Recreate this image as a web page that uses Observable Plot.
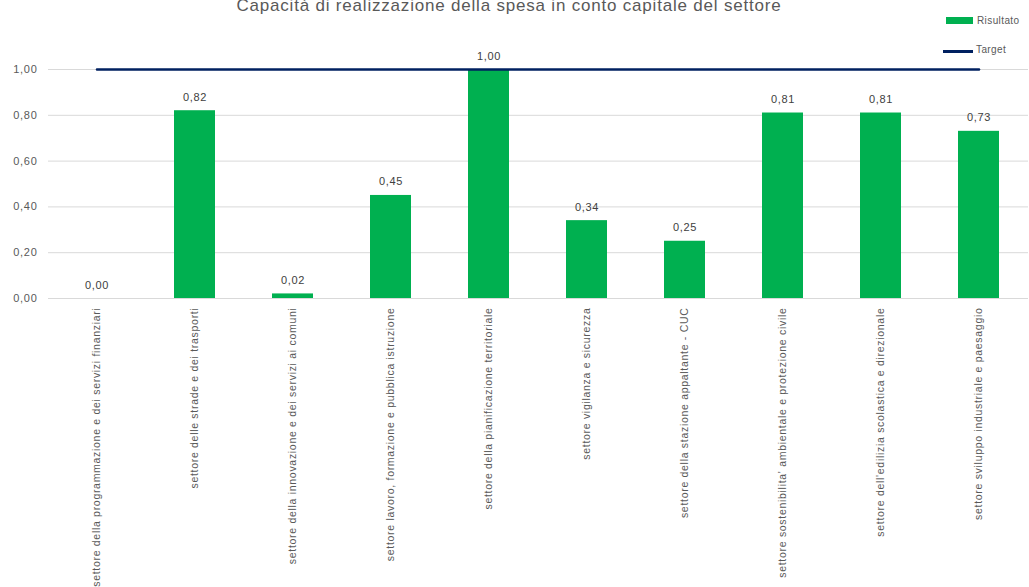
<!DOCTYPE html>
<html><head><meta charset="utf-8">
<script src="https://cdn.jsdelivr.net/npm/d3@7"></script>
<script src="https://cdn.jsdelivr.net/npm/@observablehq/plot@0.6"></script>
<style>
html,body{margin:0;padding:0;background:#fff;}
#wrap{position:relative;width:1029px;height:587px;overflow:hidden;font-family:"Liberation Sans",Arial,sans-serif;color:#595959;}
#title{position:absolute;left:0;width:1018px;top:-4px;text-align:center;font-size:17px;line-height:20px;letter-spacing:0.8px;color:#595959;white-space:nowrap;}
.lg{position:absolute;font-size:10px;line-height:12px;letter-spacing:0.4px;color:#595959;}
#chart svg{display:block;}
#chart svg text{letter-spacing:0.7px;}
</style></head>
<body>
<div id="wrap">
  <div id="chart"></div>
  <div id="title">Capacità di realizzazione della spesa in conto capitale del settore</div>
  <div class="lg" style="left:946px;top:17px;width:27px;height:7px;background:#00b050;"></div>
  <div class="lg" style="left:977px;top:15px;">Risultato</div>
  <div class="lg" style="left:943px;top:50px;width:30px;height:2.5px;background:#002060;"></div>
  <div class="lg" style="left:976px;top:44px;">Target</div>
</div>
<script>
const categories = [
  "settore della programmazione e dei servizi finanziari",
  "settore delle strade e dei trasporti",
  "settore della innovazione e dei servizi ai comuni",
  "settore lavoro, formazione e pubblica istruzione",
  "settore della pianificazione territoriale",
  "settore vigilanza e sicurezza",
  "settore della stazione appaltante - CUC",
  "settore sostenibilita' ambientale e protezione civile",
  "settore dell'edilizia scolastica e direzionale",
  "settore sviluppo industriale e paesaggio"
];
const risultato = [0.00, 0.82, 0.02, 0.45, 1.00, 0.34, 0.25, 0.81, 0.81, 0.73];
const target = [1, 1, 1, 1, 1, 1, 1, 1, 1, 1];
const yTicks = [0, 0.2, 0.4, 0.6, 0.8, 1.0];

const fmt = d => d.toFixed(2).replace(".", ",");
const data = categories.map((c, i) => ({cat: c, val: risultato[i], target: target[i]}));

const chart = Plot.plot({
  width: 1029,
  height: 587,
  marginLeft: 48,
  marginRight: 1,
  marginTop: 69,
  marginBottom: 289,
  style: {fontFamily: "'Liberation Sans', Arial, sans-serif", fontSize: "11px", color: "#595959", background: "transparent"},
  x: {domain: categories, paddingInner: 0.58, paddingOuter: 0.29, label: null},
  y: {domain: [0, 1], label: null},
  marks: [
    Plot.gridY(yTicks, {stroke: "#d9d9d9", strokeOpacity: 1, strokeWidth: 1}),
    Plot.axisY({ticks: yTicks, tickFormat: fmt, tickSize: 0, tickPadding: 11, label: null, fill: "#595959"}),
    Plot.axisX({tickRotate: -90, tickSize: 0, tickPadding: 9, label: null, fill: "#595959", fontSize: 10.5}),
    Plot.barY(data, {x: "cat", y: "val", fill: "#00b050"}),
    Plot.lineY(data, {x: "cat", y: "target", stroke: "#002060", strokeWidth: 2.5}),
    Plot.text(data, {x: "cat", y: "val", text: d => fmt(d.val), dy: -10, lineAnchor: "bottom", fill: "#404040", fontSize: 11})
  ]
});
document.getElementById("chart").appendChild(chart);
</script>
</body></html>
